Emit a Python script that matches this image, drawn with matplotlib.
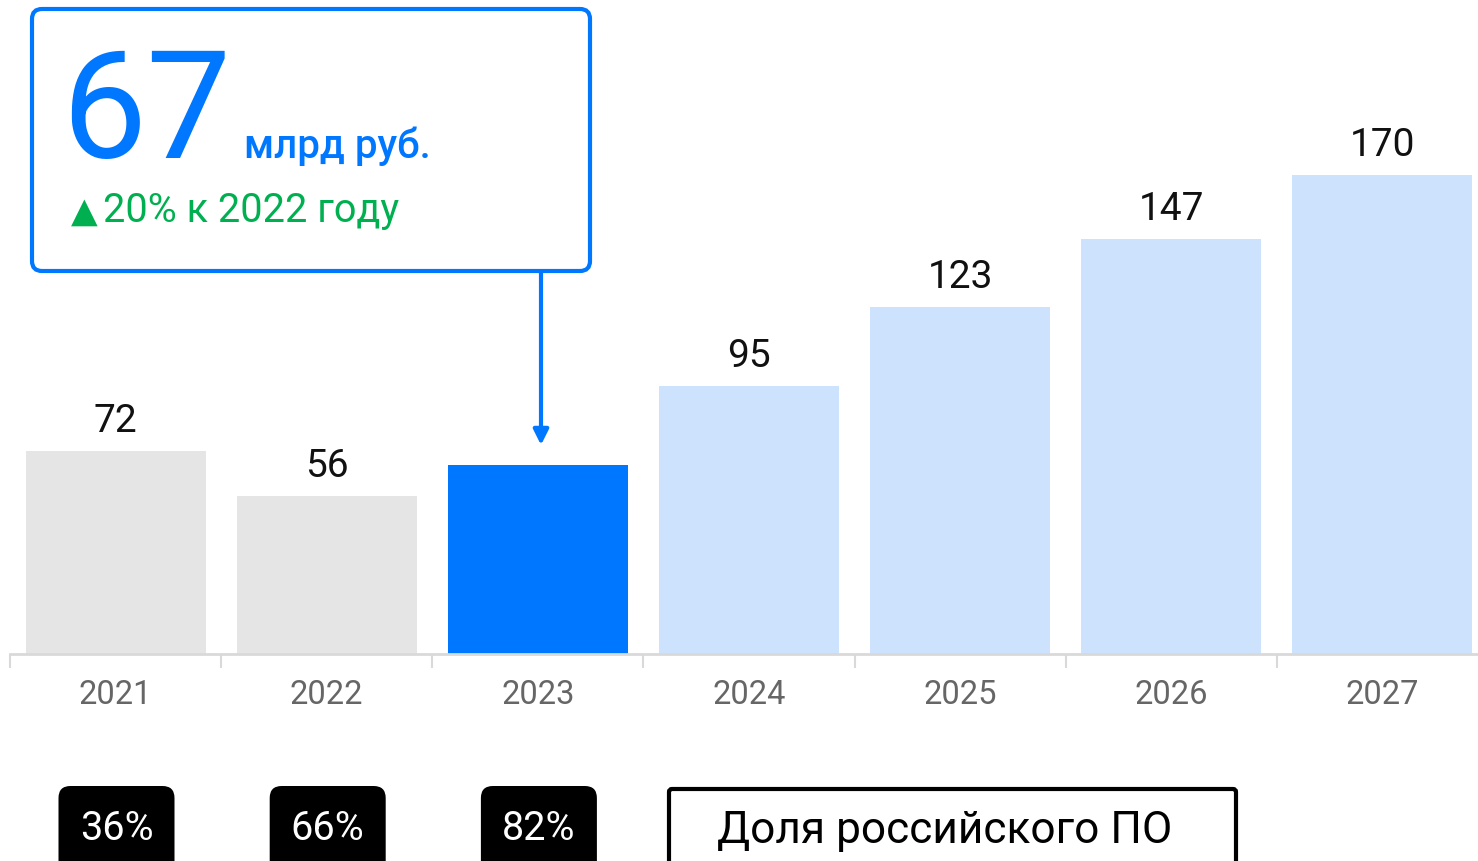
import matplotlib.pyplot as plt
from matplotlib.patches import FancyBboxPatch

plt.rcParams['font.family'] = ['Roboto', 'DejaVu Sans']

# данные
years  = ['2021', '2022', '2023', '2024', '2025', '2026', '2027']
values = [72, 56, 67, 95, 123, 147, 170]
shares = ['36%', '66%', '82%']
bar_colors = ['#e5e5e5', '#e5e5e5', '#0077ff', '#cce2fd', '#cce2fd', '#cce2fd', '#cce2fd']
highlight = 2   # 2023 подписан в выноске

W, H = 1478, 862
fig = plt.figure(figsize=(W/100, H/100), dpi=100)

# оси с барами: x от 10 px, база на 655 px, 2.82 px на единицу
base_px = 655
ppu = 2.82
ax = fig.add_axes([10/W, (H-base_px)/H, 1478/W, base_px/H])
x = range(len(years))
ax.bar(x, values, width=0.852, color=bar_colors, zorder=2)
ax.set_xlim(-0.5, 6.5)
ax.set_ylim(0, base_px/ppu)

for i, v in enumerate(values):
    if i == highlight:
        continue
    ax.text(i, v + 7.1, str(v), ha='center', va='baseline', fontsize=28, color='#111111')

for s in ['top', 'right', 'left']:
    ax.spines[s].set_visible(False)
ax.spines['bottom'].set_color('#d9d9d9')
ax.spines['bottom'].set_linewidth(2)
ax.set_yticks([])
ax.set_xticks([i - 0.5 for i in range(len(years))] + [6.5])
ax.set_xticklabels([])
ax.tick_params(axis='x', length=10, width=1.5, color='#d9d9d9')
for i, yr in enumerate(years):
    ax.text(i, -14.2, yr, ha='center', va='center', fontsize=23.5, color='#666666')

# слой для подписей в пикселях
ov = fig.add_axes([0, 0, 1, 1], zorder=5)
ov.set_xlim(0, W)
ov.set_ylim(H, 0)
ov.axis('off')
ov.patch.set_alpha(0)

# плашки с долей
for i, s in enumerate(shares):
    cx = 116.5 + 211.2*i
    ov.add_patch(FancyBboxPatch((cx - 58 + 12, 787 + 12), 116 - 24, 100,
                                boxstyle='round,pad=12', fc='black', ec='none'))
    ov.text(cx, 829, s, ha='center', va='center', fontsize=28.5, color='white')

# легенда
ov.add_patch(FancyBboxPatch((669 + 3, 790 + 3), 561, 100,
                            boxstyle='round,pad=3', fc='white', ec='black', lw=3))
ov.text(717, 831, 'Доля российского ПО', ha='left', va='center', fontsize=31.8, color='black')

# выноска
ov.add_patch(FancyBboxPatch((32 + 10, 10 + 10), 558 - 20, 262 - 20,
                            boxstyle='round,pad=10', fc='white', ec='#0077ff', lw=3))
ov.annotate('', xy=(541, 446), xytext=(541, 272),
            arrowprops=dict(arrowstyle='-|>,head_length=0.9,head_width=0.45',
                            color='#0077ff', lw=3, shrinkA=0, shrinkB=0))
ov.text(61, 158, '67', ha='left', va='baseline', fontsize=109, color='#0077ff')
ov.text(244, 158, 'млрд руб.', ha='left', va='baseline', fontsize=29, color='#0077ff',
        fontweight='medium')
ov.text(71, 222, '▲', ha='left', va='baseline', fontsize=25, color='#00b050',
        family=['DejaVu Sans'])
ov.text(103, 222, '20% к 2022 году', ha='left', va='baseline', fontsize=28.5, color='#00b050')

plt.savefig('out.png', dpi=100)
